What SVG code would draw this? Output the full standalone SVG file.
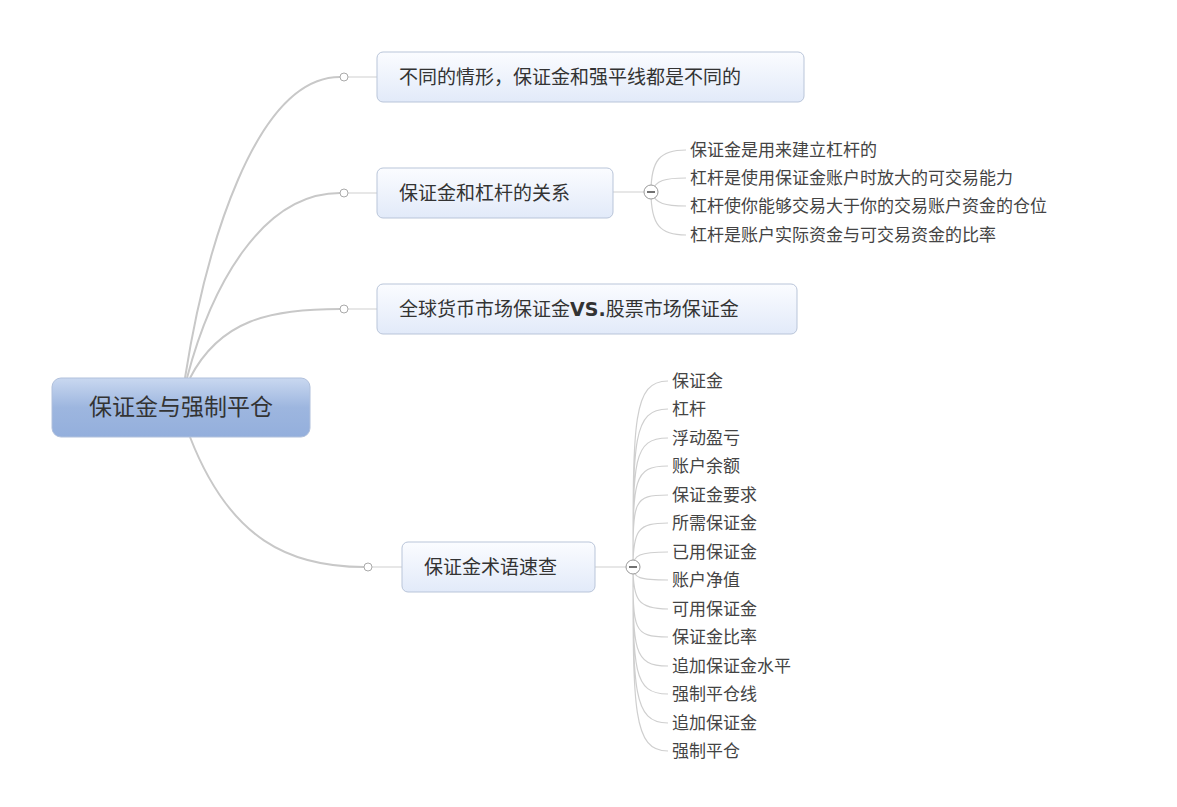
<svg xmlns="http://www.w3.org/2000/svg" width="1177" height="807" viewBox="0 0 1177 807">
<defs>
<linearGradient id="gr" x1="0" y1="0" x2="0" y2="1"><stop offset="0" stop-color="#c9d8f0"/><stop offset="0.5" stop-color="#9db6df"/><stop offset="1" stop-color="#94afdc"/></linearGradient>
<linearGradient id="gb" x1="0" y1="0" x2="0" y2="1"><stop offset="0" stop-color="#fbfcff"/><stop offset="1" stop-color="#e2eaf9"/></linearGradient>
<style>
.b{fill:url(#gb);stroke:#b9c5d9;stroke-width:1}
.t{font-family:"Noto Sans CJK SC","Liberation Sans",sans-serif;fill:#333}
.bt{font-size:19px}
.lt{font-size:17px;fill:#444}
.c{fill:none;stroke:#c8c8c8;stroke-width:2}
.cl{fill:none;stroke:#cfcfcf;stroke-width:1.2}
.o{fill:#fff;stroke:#aaa;stroke-width:1}
</style>
</defs>
<rect width="1177" height="807" fill="#fff"/>
<g id="connectors">
<path class="c" d="M185 378 C205 250 255 77 340 77"/>
<path class="c" d="M187 378 C210 290 260 193 340 193"/>
<path class="c" d="M190 378 C220 320 270 309 340 309"/>
<path class="c" d="M190 437 C230 540 290 567 364 567"/>
<path class="cl" d="M348 77H377M348 193H377M348 309H377M372 567H402"/>
<path class="cl" d="M613 192H645M595 567H627"/>
<circle class="o" cx="344" cy="77" r="4"/><circle class="o" cx="344" cy="193" r="4"/><circle class="o" cx="344" cy="309" r="4"/><circle class="o" cx="368" cy="567" r="4"/>
<path class="cl" d="M651 192C651 160 660 150 686 150M651 192C656 180 665 178 686 178M651 192C656 204 665 206 686 206M651 192C651 225 660 235 686 235"/>
<path class="cl" d="M633 567C633 420 633 381 668 381M633 567C633 440 633 409 668 409M633 567C633 460 633 438 668 438M633 567C633 480 633 466 668 466M633 567C633 500 633 495 668 495M633 567C633 530 638 523 668 523M633 567C633 555 640 552 668 552M633 567C633 578 640 580 668 580M633 567C633 600 638 609 668 609M633 567C633 630 633 637 668 637M633 567C633 650 633 666 668 666M633 567C633 670 633 694 668 694M633 567C633 690 633 723 668 723M633 567C633 710 633 751 668 751"/>
<g stroke="#999" fill="#fff"><circle cx="651" cy="192" r="7"/><circle cx="633" cy="567" r="7"/></g>
<path d="M647 192H655M629 567H637" stroke="#444" stroke-width="1.3"/>
</g>
<g id="root"><rect x="52" y="378" width="258" height="59" rx="9" fill="url(#gr)" stroke="#b0c0dc"/><text class="t" x="181" y="415" font-size="23" text-anchor="middle">保证金与强制平仓</text></g>
<g id="n1"><rect class="b" x="377" y="52" width="427" height="50" rx="6"/><text class="t bt" x="399" y="84">不同的情形，保证金和强平线都是不同的</text></g>
<g id="n2"><rect class="b" x="377" y="168" width="236" height="50" rx="6"/><text class="t bt" x="399" y="200">保证金和杠杆的关系</text></g>
<g id="n3"><rect class="b" x="377" y="284" width="420" height="50" rx="6"/><text class="t bt" x="399" y="316">全球货币市场保证金<tspan font-weight="bold" font-family="DejaVu Sans,sans-serif">VS.</tspan>股票市场保证金</text></g>
<g id="n4"><rect class="b" x="402" y="542" width="193" height="50" rx="6"/><text class="t bt" x="424" y="574">保证金术语速查</text></g>
<g id="leaves2" class="t lt">
<text x="690" y="156">保证金是用来建立杠杆的</text>
<text x="690" y="184">杠杆是使用保证金账户时放大的可交易能力</text>
<text x="690" y="212">杠杆使你能够交易大于你的交易账户资金的仓位</text>
<text x="690" y="241">杠杆是账户实际资金与可交易资金的比率</text>
</g>
<g id="leaves4" class="t lt">
<text x="672" y="387">保证金</text>
<text x="672" y="415">杠杆</text>
<text x="672" y="444">浮动盈亏</text>
<text x="672" y="472">账户余额</text>
<text x="672" y="501">保证金要求</text>
<text x="672" y="529">所需保证金</text>
<text x="672" y="558">已用保证金</text>
<text x="672" y="586">账户净值</text>
<text x="672" y="615">可用保证金</text>
<text x="672" y="643">保证金比率</text>
<text x="672" y="672">追加保证金水平</text>
<text x="672" y="700">强制平仓线</text>
<text x="672" y="729">追加保证金</text>
<text x="672" y="757">强制平仓</text>
</g>
</svg>
